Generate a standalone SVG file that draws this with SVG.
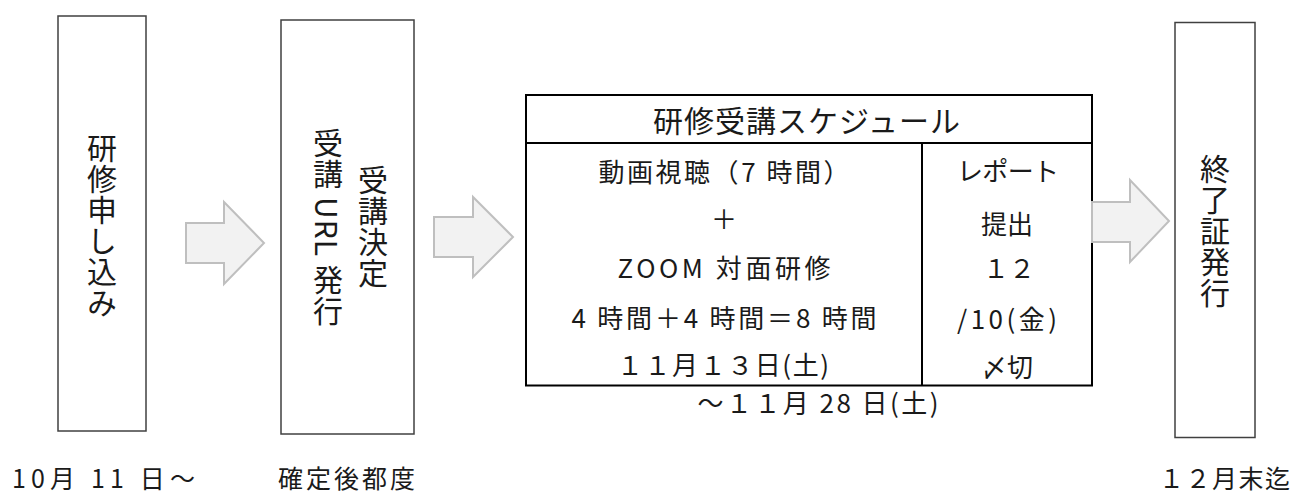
<svg xmlns="http://www.w3.org/2000/svg" width="1293" height="494" viewBox="0 0 1293 494">
<style>
.box{fill:#fff;stroke:#404040;stroke-width:1.5}
.tbl{fill:none;stroke:#000;stroke-width:2}
.arrow{fill:#f2f2f2;stroke:#bfbfbf;stroke-width:2;stroke-linejoin:miter}
text{font-family:"Noto Sans CJK JP","Noto Sans",sans-serif;fill:#1a1a1a}
.v{writing-mode:vertical-rl;text-anchor:middle;font-size:30px;letter-spacing:1px}
.t{font-size:26px;text-anchor:middle;dominant-baseline:central}
.h{font-size:30px;text-anchor:middle;dominant-baseline:central;letter-spacing:1px}
.lbl{font-size:25px;dominant-baseline:central}
</style>
<rect width="1293" height="494" fill="#fff"/>
<g id="node-apply">
<rect class="box" x="58" y="16" width="88" height="415"/>
<text class="v" x="102" y="226">研修申し込み</text>
</g>
<g id="node-url">
<rect class="box" x="281" y="20" width="133" height="414"/>
<text class="v" x="373" y="227">受講決定</text>
<text class="v" x="328" y="227">受講 URL 発行</text>
</g>
<g id="node-schedule">
<rect class="tbl" x="526" y="95" width="566" height="290.5"/>
<line class="tbl" x1="526" y1="143" x2="1092" y2="143"/>
<line class="tbl" x1="922" y1="143" x2="922" y2="385.5"/>
<text class="h" x="807" y="119">研修受講スケジュール</text>
<text class="t" x="724" y="170" textLength="251" lengthAdjust="spacing">動画視聴（7 時間）</text>
<text class="t" x="724" y="217">＋</text>
<text class="t" x="724" y="266" textLength="213" lengthAdjust="spacing">ZOOM 対面研修</text>
<text class="t" x="724" y="316" textLength="305" lengthAdjust="spacing">4 時間＋4 時間＝8 時間</text>
<text class="t" x="723" y="363" textLength="212" lengthAdjust="spacing">１１月１３日(土)</text>
<text class="t" x="1008" y="169" textLength="102" lengthAdjust="spacing">レポート</text>
<text class="t" x="1007" y="222">提出</text>
<text class="t" x="1009" y="266">１２</text>
<text class="t" x="1007" y="317" textLength="100" lengthAdjust="spacing">/10(金)</text>
<text class="t" x="1007" y="365">〆切</text>
<text class="t" x="818" y="401" textLength="241" lengthAdjust="spacing">〜１１月 28 日(土)</text>
</g>
<g id="node-cert">
<rect class="box" x="1175" y="22.5" width="80" height="415"/>
<text class="v" x="1215" y="231">終了証発行</text>
</g>
<g id="connectors">
<polygon class="arrow" points="186,223 224,223 224,202 264,243 224,284 224,263 186,263"/>
<polygon class="arrow" points="434,217 473,217 473,197 513,237 473,277 473,257 434,257"/>
<polygon class="arrow" points="1092,202 1130,202 1130,180 1169,221 1130,262 1130,242 1092,242"/>
</g>
<g id="labels">
<text class="lbl" x="12" y="477" textLength="183" lengthAdjust="spacing">10月 11 日〜</text>
<text class="lbl" x="278" y="477" textLength="137" lengthAdjust="spacing">確定後都度</text>
<text class="lbl" x="1159" y="477" textLength="131" lengthAdjust="spacing">１２月末迄</text>
</g>
</svg>
